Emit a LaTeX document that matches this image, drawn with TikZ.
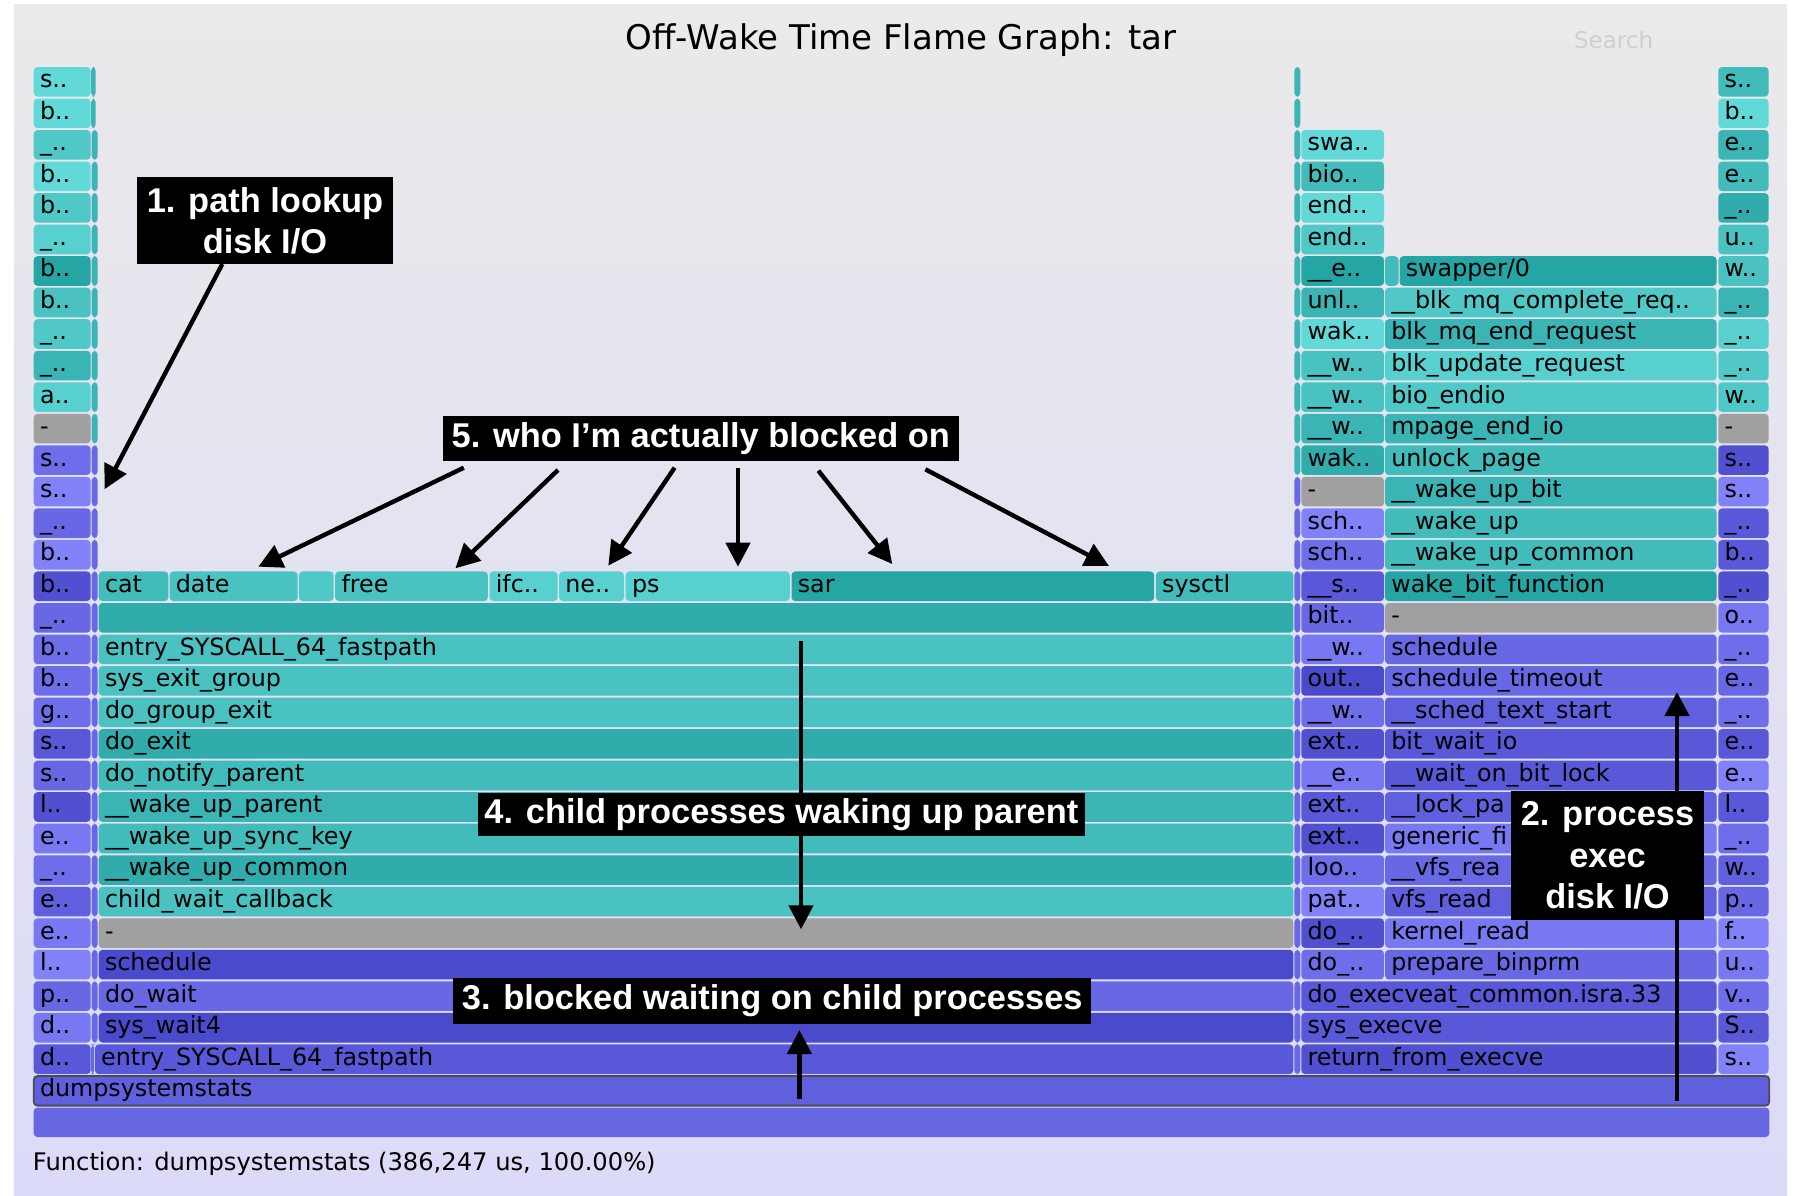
\documentclass[tikz,border=0pt]{standalone}
\usepackage{fontspec}
\setmainfont{DejaVu Sans}
\newfontfamily\annfont{Liberation Sans}
\usetikzlibrary{arrows.meta}

% background
\definecolor{bgtop}{HTML}{EAEAEA}
\definecolor{bgbot}{HTML}{DBDAF9}
% wakeup (aqua) palette
\definecolor{ta}{HTML}{62D9D9}
\definecolor{tb}{HTML}{58D0D0}
\definecolor{tc}{HTML}{50C8C8}
\definecolor{td}{HTML}{4AC2C2}
\definecolor{te}{HTML}{42BBBB}
\definecolor{tf}{HTML}{3AB4B4}
\definecolor{tg}{HTML}{30ACAC}
\definecolor{th}{HTML}{26A5A5}
% off-cpu (blue) palette
\definecolor{pa}{HTML}{8282F8}
\definecolor{pb}{HTML}{7878F2}
\definecolor{pc}{HTML}{6E6EEA}
\definecolor{pd}{HTML}{6868E4}
\definecolor{pe}{HTML}{6060DE}
\definecolor{pf}{HTML}{5858D8}
\definecolor{pg}{HTML}{5050D0}
\definecolor{ph}{HTML}{4A4ACC}
\definecolor{gr}{HTML}{A0A0A0}
\definecolor{srch}{HTML}{CFCFCF}

\newcounter{frm}
% one frame: x1, x2, row, colour, label
\newcommand\fr[5]{%
  \stepcounter{frm}\edef\frname{fr\arabic{frm}}%
  \fill[#4, rounded corners=1.9pt] (#1,{67+(#3-1)*31.53}) rectangle (#2,{67+(#3-1)*31.53+29.6});
  \node[lbl] (\frname) at ({#1+5.9},{67+(#3-1)*31.53+20.7}) {#5};
}
% one frame without label
\newcommand\frn[4]{%
  \fill[#4, rounded corners=1.9pt] (#1,{67+(#3-1)*31.53}) rectangle (#2,{67+(#3-1)*31.53+29.6});
}
\newcommand\frL[3]{\fr{33.7}{90.7}{#1}{#2}{#3}}
\newcommand\frM[3]{\fr{98.7}{1293.4}{#1}{#2}{#3}}
\newcommand\frC[3]{\fr{1301.3}{1384.0}{#1}{#2}{#3}}
\newcommand\frT[3]{\fr{1385.0}{1716.6}{#1}{#2}{#3}}
\newcommand\frCT[3]{\fr{1301.3}{1716.6}{#1}{#2}{#3}}
\newcommand\frR[3]{\fr{1718.3}{1768.6}{#1}{#2}{#3}}
\newcommand\sliverL[2]{\frn{91.7}{97.7}{#1}{#2}}
\newcommand\sliverR[2]{\frn{1294.4}{1300.3}{#1}{#2}}

\begin{document}
\begin{tikzpicture}[x=0.5pt, y=-0.5pt,
  lbl/.style={anchor=base west, inner sep=0pt, text=black,
    font=\fontsize{11.9}{14}\selectfont},
  ann/.style={fill=black, text=white, inner sep=0pt, align=center,
    font=\annfont\bfseries\fontsize{17.2}{20.6}\selectfont},
  arr/.style={line width=2.2pt, -{Triangle[length=12pt,width=12pt]}}]

\useasboundingbox (0,0) rectangle (1794,1195);
\fill[white] (0,0) rectangle (1794,1195);
\shade[top color=bgtop, bottom color=bgbot] (13.8,4) rectangle (1787,1195);

\node[anchor=base, font=\fontsize{17}{20}\selectfont] (title) at (901,49) {Off-Wake Time Flame Graph: tar};
\node[anchor=base west, text=srch, font=\fontsize{11.5}{14}\selectfont] (search) at (1567,48) {Search};

% thin frames beside the wide columns
\foreach \r in {1,...,2}{\frn{91.2}{95.7}{\r}{tf}}
\foreach \r in {3,...,12}{\sliverL{\r}{tf}}
\foreach \r in {13,...,31}{\sliverL{\r}{pd}}
\frn{91.2}{94.2}{32}{pd}
\foreach \r in {1,...,13}{\sliverR{\r}{tf}}
\foreach \r in {14,...,32}{\sliverR{\r}{pd}}

% left column
\frL{1}{ta}{s..}
\frL{2}{ta}{b..}
\frL{3}{tc}{\_..}
\frL{4}{ta}{b..}
\frL{5}{tc}{b..}
\frL{6}{tb}{\_..}
\frL{7}{th}{b..}
\frL{8}{td}{b..}
\frL{9}{tc}{\_..}
\frL{10}{tf}{\_..}
\frL{11}{tb}{a..}
\frL{12}{gr}{-}
\frL{13}{pc}{s..}
\frL{14}{pa}{s..}
\frL{15}{pd}{\_..}
\frL{16}{pa}{b..}
\frL{17}{pg}{b..}
\frL{18}{pd}{\_..}
\frL{19}{pc}{b..}
\frL{20}{pc}{b..}
\frL{21}{pc}{g..}
\frL{22}{pf}{s..}
\frL{23}{pd}{s..}
\frL{24}{pg}{l..}
\frL{25}{pb}{e..}
\frL{26}{pc}{\_..}
\frL{27}{pe}{e..}
\frL{28}{pb}{e..}
\frL{29}{pa}{l..}
\frL{30}{pd}{p..}
\frL{31}{pb}{d..}
\frL{32}{pf}{d..}

% main column
\fr{98.7}{168.4}{17}{te}{cat}
\fr{169.5}{297.7}{17}{td}{date}
\frn{298.9}{333.7}{17}{tc}
\fr{335.2}{487.9}{17}{td}{free}
\fr{489.5}{557.6}{17}{tb}{ifc..}
\fr{559.1}{624.0}{17}{tb}{ne..}
\fr{625.7}{789.8}{17}{tb}{ps}
\fr{791.5}{1154.2}{17}{th}{sar}
\fr{1155.9}{1293.4}{17}{te}{sysctl}
\frn{98.7}{1293.4}{18}{tg}
\frM{19}{td}{entry\_SYSCALL\_64\_fastpath}
\frM{20}{td}{sys\_exit\_group}
\frM{21}{td}{do\_group\_exit}
\frM{22}{tg}{do\_exit}
\frM{23}{te}{do\_notify\_parent}
\frM{24}{tf}{\_\_wake\_up\_parent}
\frM{25}{te}{\_\_wake\_up\_sync\_key}
\frM{26}{tg}{\_\_wake\_up\_common}
\frM{27}{td}{child\_wait\_callback}
\frM{28}{gr}{-}
\frM{29}{ph}{schedule}
\frM{30}{pd}{do\_wait}
\frM{31}{ph}{sys\_wait4}
\fr{94.9}{1293.4}{32}{pf}{entry\_SYSCALL\_64\_fastpath}

% second column
\frC{3}{ta}{swa..}
\frC{4}{te}{bio..}
\frC{5}{ta}{end..}
\frC{6}{tc}{end..}
\frC{7}{th}{\_\_e..}
\frC{8}{tf}{unl..}
\frC{9}{ta}{wak..}
\frC{10}{td}{\_\_w..}
\frC{11}{td}{\_\_w..}
\frC{12}{tf}{\_\_w..}
\frC{13}{tg}{wak..}
\frC{14}{gr}{-}
\frC{15}{pa}{sch..}
\frC{16}{pc}{sch..}
\frC{17}{pf}{\_\_s..}
\frC{18}{pd}{bit..}
\frC{19}{pb}{\_\_w..}
\frC{20}{ph}{out..}
\frC{21}{pc}{\_\_w..}
\frC{22}{pg}{ext..}
\frC{23}{pb}{\_\_e..}
\frC{24}{pf}{ext..}
\frC{25}{pg}{ext..}
\frC{26}{pc}{loo..}
\frC{27}{pa}{pat..}
\frC{28}{pg}{do\_..}
\frC{29}{pc}{do\_..}
\frCT{30}{pf}{do\_execveat\_common.isra.33}
\frCT{31}{pf}{sys\_execve}
\frCT{32}{pg}{return\_from\_execve}

% third column
\frn{1385.0}{1398.5}{7}{te}
\fr{1399.5}{1716.6}{7}{th}{swapper/0}
\frT{8}{tc}{\_\_blk\_mq\_complete\_req..}
\frT{9}{tf}{blk\_mq\_end\_request}
\frT{10}{tb}{blk\_update\_request}
\frT{11}{tc}{bio\_endio}
\frT{12}{tf}{mpage\_end\_io}
\frT{13}{te}{unlock\_page}
\frT{14}{tf}{\_\_wake\_up\_bit}
\frT{15}{te}{\_\_wake\_up}
\frT{16}{te}{\_\_wake\_up\_common}
\frT{17}{th}{wake\_bit\_function}
\frT{18}{gr}{-}
\frT{19}{pd}{schedule}
\frT{20}{pd}{schedule\_timeout}
\frT{21}{pe}{\_\_sched\_text\_start}
\frT{22}{pf}{bit\_wait\_io}
\frT{23}{pf}{\_\_wait\_on\_bit\_lock}
\frT{24}{pe}{\_\_lock\_pa}
\frT{25}{pb}{generic\_fi}
\frT{26}{pd}{\_\_vfs\_rea}
\frT{27}{pe}{vfs\_read}
\frT{28}{pb}{kernel\_read}
\frT{29}{pd}{prepare\_binprm}

% right column
\frR{1}{te}{s..}
\frR{2}{ta}{b..}
\frR{3}{tf}{e..}
\frR{4}{te}{e..}
\frR{5}{tg}{\_..}
\frR{6}{td}{u..}
\frR{7}{td}{w..}
\frR{8}{tf}{\_..}
\frR{9}{tb}{\_..}
\frR{10}{tc}{\_..}
\frR{11}{tc}{w..}
\frR{12}{gr}{-}
\frR{13}{pg}{s..}
\frR{14}{pa}{s..}
\frR{15}{pf}{\_..}
\frR{16}{pf}{b..}
\frR{17}{pg}{\_..}
\frR{18}{pb}{o..}
\frR{19}{pc}{\_..}
\frR{20}{pd}{e..}
\frR{21}{pc}{\_..}
\frR{22}{pf}{e..}
\frR{23}{pa}{e..}
\frR{24}{pf}{l..}
\frR{25}{pc}{\_..}
\frR{26}{pe}{w..}
\frR{27}{pd}{p..}
\frR{28}{pa}{f..}
\frR{29}{pb}{u..}
\frR{30}{pc}{v..}
\frR{31}{pf}{S..}
\frR{32}{pa}{s..}

% root frames
\fill[pe, rounded corners=1.9pt, draw=black!70, line width=0.9pt] (33.7,1076) rectangle (1769.3,1105.6);
\node[lbl] (root) at (39.6,1096.7) {dumpsystemstats};
\frn{33.7}{1769.3}{34}{pd}

\node[anchor=base west, inner sep=0pt, font=\fontsize{12.1}{14}\selectfont] (info) at (32.5,1170) {Function: dumpsystemstats (386,247 us, 100.00\%)};

% callout arrows
\coordinate (a1s) at (222.3,264);    \coordinate (a1e) at (104.5,489.3);
\coordinate (a5as) at (463.8,467.7); \coordinate (a5ae) at (258.3,566.7);
\coordinate (a5bs) at (558,470);     \coordinate (a5be) at (455.4,568.3);
\coordinate (a5cs) at (674.6,467.7); \coordinate (a5ce) at (608.3,565.7);
\coordinate (a5ds) at (738,467.7);   \coordinate (a5de) at (738,566.7);
\coordinate (a5es) at (818.4,470.7); \coordinate (a5ee) at (892.2,564);
\coordinate (a5fs) at (925.4,469.3); \coordinate (a5fe) at (1109,566);
\coordinate (a4s) at (801,641);      \coordinate (a4e) at (801,929.3);
\coordinate (a3s) at (799.4,1099);   \coordinate (a3e) at (799.4,1030);
\coordinate (a2s) at (1677,1101);    \coordinate (a2e) at (1677,692);

\draw[arr] (a1s) -- (a1e);
\draw[arr] (a5as) -- (a5ae);
\draw[arr] (a5bs) -- (a5be);
\draw[arr] (a5cs) -- (a5ce);
\draw[arr] (a5ds) -- (a5de);
\draw[arr] (a5es) -- (a5ee);
\draw[arr] (a5fs) -- (a5fe);
\draw[arr] (a4s) -- (a4e);
\draw[arr] (a3s) -- (a3e);
\draw[arr] (a2s) -- (a2e);

% callout boxes
\node[ann, minimum width=127.6pt, minimum height=43.2pt] (b1) at (265,220.5) {1. path lookup\\disk I/O};
\node[ann, minimum width=258pt, minimum height=22.4pt] (b5) at (700.8,438.7) {5. who I’m actually blocked on};
\node[ann, minimum width=303.2pt, minimum height=21.7pt] (b4) at (781.4,814.6) {4. child processes waking up parent};
\node[ann, minimum width=319.2pt, minimum height=22.9pt] (b3) at (772.2,1001.1) {3. blocked waiting on child processes};
\node[ann, minimum width=96.5pt, minimum height=64.5pt] (b2) at (1607.5,855.5) {2. process\\exec\\disk I/O};
\end{tikzpicture}
\end{document}
